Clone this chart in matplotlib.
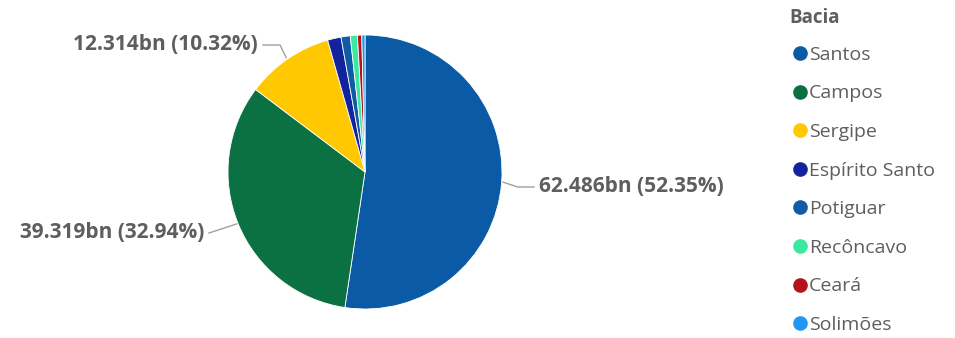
import matplotlib.pyplot as plt
import numpy as np
from matplotlib.lines import Line2D

# Bacia -> volume (bn)
bacias = ['Santos', 'Campos', 'Sergipe', 'Espírito Santo', 'Potiguar',
          'Recôncavo', 'Ceará', 'Solimões']
valores = [62.486, 39.319, 12.314, 1.9, 1.3, 1.0, 0.6, 0.45]
cores = ['#0A5AA6', '#0B7142', '#FFC800', '#12239E', '#0F5BA6',
         '#3CE8A0', '#B5121B', '#2196F3']

# which slices get a data label
rotulados = ['Santos', 'Campos', 'Sergipe']

plt.rcParams['font.family'] = ['Open Sans', 'DejaVu Sans']
txt_cor = '#605E5C'
lin_cor = '#A0A0A0'

fig = plt.figure(figsize=(9.55, 3.38), dpi=100)
W, H = 955, 338
cx, cy, R = 365, 172, 137
ax = fig.add_axes([(cx - R) / W, (H - cy - R) / H, 2 * R / W, 2 * R / H])

wedges, _ = ax.pie(valores, colors=cores, startangle=90, counterclock=False,
                   radius=1, wedgeprops=dict(edgecolor='white', linewidth=0.6))
ax.set_xlim(-1, 1)
ax.set_ylim(-1, 1)
ax.set_aspect('equal')
ax.axis('off')

total = sum(valores)

def px(x, y):
    # pixel position -> data coords of the pie axes
    return (x - cx) / R, (cy - y) / R

# label anchor positions (text edge, in pixels) for each labelled slice
pos_txt = {'Santos': (539, 187, 'left'),
           'Campos': (204, 233, 'right'),
           'Sergipe': (258, 45, 'right')}

for w, nome, v in zip(wedges, bacias, valores):
    if nome not in rotulados:
        continue
    ang = np.deg2rad((w.theta1 + w.theta2) / 2)
    ex, ey = np.cos(ang) * 1.0, np.sin(ang) * 1.0
    tx, ty, ha = pos_txt[nome]
    tx, ty = px(tx, ty)
    rotulo = f'{v:.3f}bn ({v / total * 100:.2f}%)'
    ax.text(tx, ty, rotulo, ha=ha, va='center', fontsize=15,
            fontweight='bold', color=txt_cor, clip_on=False)
    gap = 5 / R
    if ha == 'left':
        xs = [ex + 0.01, px(504, 187)[0] + 0.1, tx - gap]
        ys = [ey, ty, ty]
    elif nome == 'Sergipe':
        elbow = px(280, 45)[0]
        xs = [ex - 0.01, elbow, tx + gap]
        ys = [ey + 0.01, ty, ty]
    else:
        xs = [ex - 0.01, tx + gap]
        ys = [ey, ty]
    ax.plot(xs, ys, color=lin_cor, lw=1, clip_on=False)

fig.text(789 / W, 1 - 18 / H, 'Bacia', fontsize=13.5, fontweight='bold',
         color=txt_cor, ha='left', va='center')

handles = [Line2D([], [], marker='o', linestyle='none', markersize=9.5,
                  markerfacecolor=c, markeredgecolor=c) for c in cores]
leg = fig.legend(handles, bacias, loc='upper left',
                 bbox_to_anchor=(782 / W, 1 - 38 / H), frameon=False,
                 fontsize=14, labelspacing=1.06, handletextpad=0.0,
                 handlelength=1.0, borderaxespad=0, labelcolor=txt_cor)

fig.savefig('out.png', dpi=100, facecolor='white')
